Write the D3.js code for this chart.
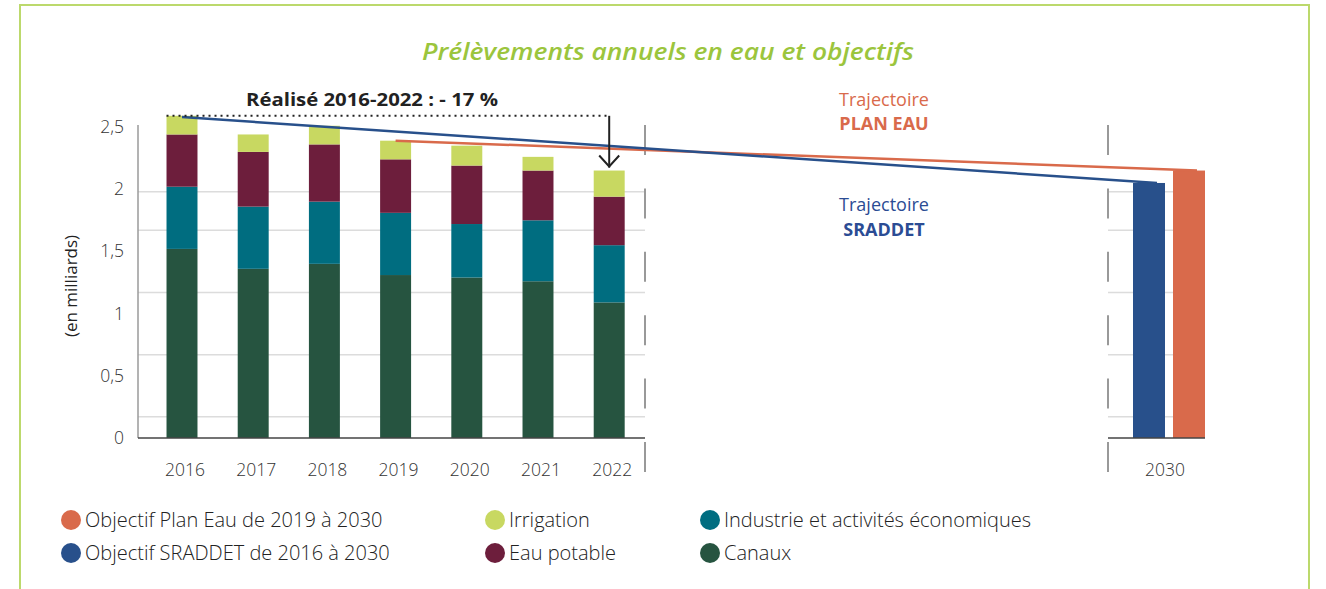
<!DOCTYPE html>
<html><head><meta charset="utf-8">
<script src="https://cdn.jsdelivr.net/npm/d3@7"></script>
<style>body{margin:0;background:#fff} text{font-family:"Open Sans", Lato, sans-serif}</style>
</head><body><svg id="c" width="1326" height="589"></svg>
<script>
// ---- data ----
const years = ["2016","2017","2018","2019","2020","2021","2022"];
const canaux     = [1.52,1.36,1.40,1.31,1.29,1.26,1.09];
const industrie  = [0.50,0.50,0.50,0.50,0.43,0.49,0.46];
const eauPotable = [0.42,0.44,0.46,0.43,0.47,0.40,0.39];
const irrigation = [0.15,0.14,0.15,0.15,0.16,0.11,0.21];
const targetYear = "2030";
const targets = ["SRADDET","Plan Eau"];
const targetValues = [2.05, 2.15];
const sraddetLine = [["2016",2.58],["2030",2.05]];
const planEauLine = [["2019",2.39],["2030",2.15]];
const yTicks = [0,0.5,1,1.5,2,2.5];
const yTickLabels = ["0","0,5","1","1,5","2","2,5"];
const gridValues = [0.17,0.67,1.17,1.67,1.98];
const seriesKeys = ["canaux","industrie","eauPotable","irrigation"];
const seriesLabels = ["Canaux","Industrie et activités économiques","Eau potable","Irrigation"];
const lineLabels = ["Objectif Plan Eau de 2019 à 2030","Objectif SRADDET de 2016 à 2030"];
const realised = "Réalisé 2016-2022 : - 17 %";

// ---- styles ----
const colors = {canaux:"#265440", industrie:"#006d80", eauPotable:"#6d1e3c", irrigation:"#c8d861",
  SRADDET:"#28508b", "Plan Eau":"#d96a4b"};

const svg = d3.select("#c");
svg.append("rect").attr("x",20).attr("y",5).attr("width",1289).attr("height",620)
  .attr("fill","none").attr("stroke","#bcd96c").attr("stroke-width",2);

const y = d3.scaleLinear().domain([0,2.5]).range([438,127]);
const x = d3.scaleBand().domain(years).range([146.4,644.8]).paddingInner(0.565).paddingOuter(0.2825);
const x2 = d3.scaleBand().domain(targets).range([1133,1205]).paddingInner(0.2).paddingOuter(0);
const x2Label = d3.scalePoint().domain([targetYear]).range([1165,1165]);

// title
svg.append("text").attr("x",668).attr("y",60).attr("text-anchor","middle")
  .attr("font-size",23).attr("font-style","italic").attr("font-weight",600)
  .attr("fill","#9bc53d").attr("textLength",492).attr("lengthAdjust","spacingAndGlyphs")
  .text("Prélèvements annuels en eau et objectifs");

// gridlines
const g = svg.append("g");
g.selectAll(".gl").data(gridValues).join("line")
  .attr("x1",138).attr("x2",645).attr("y1",d=>y(d)).attr("y2",d=>y(d))
  .attr("stroke","#dcdcdc").attr("stroke-width",1.5);
g.selectAll(".gr").data(gridValues).join("line")
  .attr("x1",1108).attr("x2",1205).attr("y1",d=>y(d)).attr("y2",d=>y(d))
  .attr("stroke","#dcdcdc").attr("stroke-width",1.5);

// y axis
svg.append("line").attr("x1",138).attr("x2",138).attr("y1",y(2.5)-2).attr("y2",y(0))
  .attr("stroke","#9a9a9a").attr("stroke-width",1.5);
svg.selectAll(".yt").data(yTicks).join("text")
  .attr("x",124).attr("y",d=>y(d)+6).attr("text-anchor","end").attr("font-weight",300)
  .attr("font-size",17.5).attr("fill","#333").text((d,i)=>yTickLabels[i]);
svg.append("text").attr("transform","translate(77,286) rotate(-90)").attr("text-anchor","middle")
  .attr("font-size",17).attr("fill","#222").text("(en milliards)");

// stacked bars
const table = years.map((yr,i)=>({year:yr, canaux:canaux[i], industrie:industrie[i], eauPotable:eauPotable[i], irrigation:irrigation[i]}));
const stack = d3.stack().keys(seriesKeys)(table);
svg.append("g").selectAll("g").data(stack).join("g").attr("fill",d=>colors[d.key])
  .selectAll("rect").data(d=>d).join("rect")
  .attr("x",d=>x(d.data.year)).attr("width",x.bandwidth())
  .attr("y",d=>y(d[1])).attr("height",d=>y(d[0])-y(d[1]));

// x axis
svg.append("line").attr("x1",138).attr("x2",645).attr("y1",y(0)).attr("y2",y(0))
  .attr("stroke","#444").attr("stroke-width",1.5);
svg.selectAll(".xt").data(years).join("text")
  .attr("x",d=>x(d)+x.bandwidth()/2+3).attr("y",476).attr("text-anchor","middle").attr("font-weight",300)
  .attr("font-size",17.5).attr("fill","#333").text(d=>d);

// 2030 bars
svg.selectAll(".tb").data(targets).join("rect")
  .attr("x",d=>x2(d)).attr("width",x2.bandwidth())
  .attr("y",(d,i)=>y(targetValues[i])).attr("height",(d,i)=>y(0)-y(targetValues[i]))
  .attr("fill",d=>colors[d]);
svg.append("line").attr("x1",1108).attr("x2",1205).attr("y1",y(0)).attr("y2",y(0))
  .attr("stroke","#444").attr("stroke-width",1.5);
svg.append("text").attr("x",x2Label(targetYear)).attr("y",476).attr("text-anchor","middle").attr("font-weight",300)
  .attr("font-size",17.5).attr("fill","#333").text(targetYear);

// dashed separators
[645,1108].forEach(xx=>{
  svg.append("line").attr("x1",xx).attr("x2",xx).attr("y1",125).attr("y2",472)
    .attr("stroke","#999").attr("stroke-width",2).attr("stroke-dasharray","30 33.4");
});

// objective lines
const xPos = (yr, name) => yr===targetYear ? x2(name)+x2.bandwidth()*0.75 : x(yr)+x.bandwidth()/2;
const lineGen = name => d3.line().x(d=>xPos(d[0],name)).y(d=>y(d[1]));
svg.append("path").datum(planEauLine).attr("d",lineGen("Plan Eau")).attr("fill","none")
  .attr("stroke",colors["Plan Eau"]).attr("stroke-width",2.5);
svg.append("path").datum(sraddetLine).attr("d",lineGen("SRADDET")).attr("fill","none")
  .attr("stroke",colors.SRADDET).attr("stroke-width",2.5);

// realised annotation
const top2016 = d3.sum(seriesKeys.map(k=>table[0][k]));
const top2022 = d3.sum(seriesKeys.map(k=>table[6][k]));
const ax = x("2022")+x.bandwidth()/2;
svg.append("line").attr("x1",x("2016")).attr("x2",ax).attr("y1",y(top2016)).attr("y2",y(top2016))
  .attr("stroke","#222").attr("stroke-width",2).attr("stroke-dasharray","2 4");
svg.append("line").attr("x1",ax).attr("x2",ax).attr("y1",y(top2016)).attr("y2",y(top2022)-3)
  .attr("stroke","#222").attr("stroke-width",2);
svg.append("path").attr("d",`M${ax-10},${y(top2022)-15}L${ax},${y(top2022)-4}L${ax+10},${y(top2022)-15}`)
  .attr("fill","none").attr("stroke","#222").attr("stroke-width",2);
svg.append("text").attr("x",372).attr("y",106).attr("text-anchor","middle")
  .attr("font-size",18).attr("font-weight",700).attr("fill","#222")
  .attr("textLength",252).attr("lengthAdjust","spacingAndGlyphs").text(realised);

// trajectory labels
const tl = [["Trajectoire",106,400,colors["Plan Eau"]],["PLAN EAU",130,700,colors["Plan Eau"]],
            ["Trajectoire",211,400,"#2b4c94"],["SRADDET",236,700,"#2b4c94"]];
svg.selectAll(".tl").data(tl).join("text").attr("x",884).attr("y",d=>d[1]).attr("text-anchor","middle")
  .attr("font-size",18).attr("font-weight",d=>d[2]).attr("fill",d=>d[3]).text(d=>d[0]);

// legend
const legend = [
  [lineLabels[0], colors["Plan Eau"], 71, 520],
  [lineLabels[1], colors.SRADDET, 71, 553],
  [seriesLabels[3], colors.irrigation, 495, 520],
  [seriesLabels[2], colors.eauPotable, 495, 553],
  [seriesLabels[1], colors.industrie, 710, 520],
  [seriesLabels[0], colors.canaux, 710, 553]];
const lg = svg.selectAll(".lg").data(legend).join("g").attr("transform",d=>`translate(${d[2]},${d[3]})`);
lg.append("circle").attr("r",10).attr("fill",d=>d[1]);
lg.append("text").attr("x",14).attr("y",7).attr("font-size",20).attr("font-weight",300).attr("fill","#222").text(d=>d[0]);
</script></body></html>
